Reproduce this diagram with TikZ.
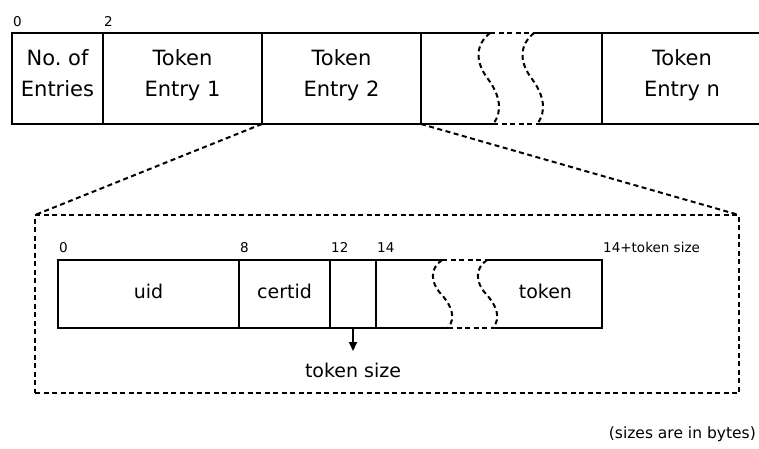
\documentclass[tikz,border=0pt]{standalone}
\usepackage{fontspec}
\setmainfont{DejaVu Sans}
\usetikzlibrary{positioning,arrows.meta}

\begin{document}
\begin{tikzpicture}[x=1pt, y=-1pt,
  field/.style={draw, line width=2pt, inner sep=0pt, outer sep=0pt},
  bigfield/.style={field, minimum height=91pt, align=center,
    font=\fontsize{21}{31}\selectfont, text depth=11pt},
  subfield/.style={field, minimum height=68pt,
    font=\fontsize{19}{23}\selectfont, text height=15pt, text depth=6pt},
  brk/.style={line width=2pt, dash pattern=on 5pt off 3.5pt},
  offs/.style={inner sep=1pt, anchor=base west, font=\fontsize{13.5}{15}\selectfont},
]
\useasboundingbox (0,0) rectangle (759,448);

% entries row
\node[bigfield, minimum width=91pt, anchor=north west] (nent) at (12,33) {No.\ of\\Entries};
\node[bigfield, minimum width=159pt, right=0pt of nent] (ent1) {Token\\Entry 1};
\node[bigfield, minimum width=159pt, right=0pt of ent1] (ent2) {Token\\Entry 2};
\node[bigfield, draw=none, minimum width=181pt, right=0pt of ent2] (skip) {};
\node[bigfield, minimum width=160pt, right=0pt of skip] (entn) {Token\\Entry n};

\node[offs] (o0) at ([yshift=7pt]nent.north west) {0};
\node[offs] (o2) at ([yshift=7pt]ent1.north west) {2};

% cut in the row
\draw[line width=2pt] (skip.north west) -- (490,33) (534,33) -- (skip.north east)
  (skip.south west) -- (493,124) (537,124) -- (skip.south east);
\draw[brk] (490,33) -- (534,33) (493,124) -- (537,124);
\foreach \dx in {0,44}
  \draw[brk, xshift=\dx] (490,33) .. controls (475,45) and (475,62) .. (488,79)
    .. controls (500,95) and (503,112) .. (493,124);

% one entry, enlarged
\node[draw, brk, minimum width=704pt, minimum height=178pt, inner sep=0pt,
  outer sep=0pt, anchor=north west] (zoom) at (35,215) {};
\draw[brk] (ent2.south west) -- (zoom.north west);
\draw[brk] (ent2.south east) -- (zoom.north east);

\node[subfield, minimum width=181pt, anchor=north west] (uid) at (58,260) {uid};
\node[subfield, minimum width=91pt, right=0pt of uid] (certid) {certid};
\node[subfield, minimum width=46pt, right=0pt of certid] (tsize) {};
\node[subfield, draw=none, minimum width=226pt, right=0pt of tsize] (tok) {};
\node[subfield, draw=none, left=30pt of tok.east] (toklbl) {token};

\draw[line width=2pt] (tsize.north east) -- (442,260) (487,260) -- (tok.north east)
  -- (tok.south east) -- (493,328) (448,328) -- (tsize.south east);
\draw[brk] (442,260) -- (487,260) (448,328) -- (493,328);
\foreach \dx in {0,45}
  \draw[brk, xshift=\dx] (442,260) .. controls (430,268) and (430,282) .. (441,294)
    .. controls (452,306) and (456,318) .. (448,328);

\node[offs] (s0) at ([yshift=8pt]uid.north west) {0};
\node[offs] (s8) at ([yshift=8pt]certid.north west) {8};
\node[offs] (s12) at ([yshift=8pt]tsize.north west) {12};
\node[offs] (s14) at ([yshift=8pt]tok.north west) {14};
\node[offs] (send) at ([yshift=8pt]tok.north east) {14+token size};

\coordinate (tip) at ([yshift=-23pt]tsize.south);
\draw[line width=1.8pt, -{Triangle[width=8pt,length=9pt]}] (tsize.south) -- (tip);
\node[font=\fontsize{19}{23}\selectfont, anchor=base] (tslbl) at ([yshift=-49pt]tsize.south) {token size};

\node[anchor=base east, inner sep=1pt, font=\fontsize{15.5}{18}\selectfont] (units) at (757,438) {(sizes are in bytes)};
\end{tikzpicture}
\end{document}
